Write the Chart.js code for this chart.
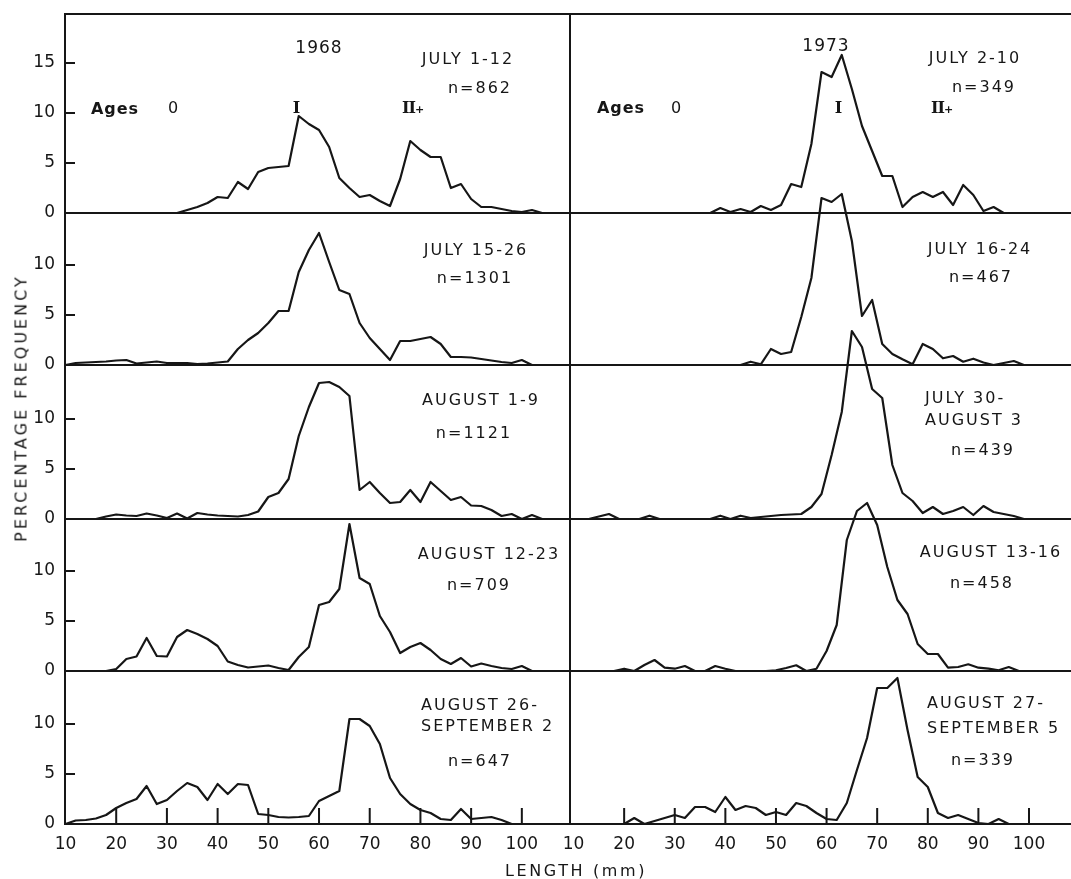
<!DOCTYPE html>
<html>
<head>
<meta charset="utf-8">
<script src="https://cdn.jsdelivr.net/npm/chart.js@4.4.1/dist/chart.umd.min.js"></script>
<style>
  html, body { margin: 0; padding: 0; background: #fff; }
  #fig { position: relative; width: 1071px; height: 879px; overflow: hidden;
         font-family: "DejaVu Sans", sans-serif; color: #161616; }
  #fig canvas { position: absolute; top: 0; }
  .t { position: absolute; font-size: 16px; letter-spacing: 2px; white-space: nowrap;
       transform: translate(-50%, -50%); line-height: 1; }
  .l { position: absolute; font-size: 16px; letter-spacing: 2px; white-space: nowrap;
       transform: translate(0, -50%); line-height: 1; }
  .year { font-size: 17px; letter-spacing: 1px; }
  .ages { font-weight: bold; letter-spacing: 1px; }
  .roman { font-family: "DejaVu Serif", serif; font-weight: bold; letter-spacing: -1px; }
  .roman small { font-family: "DejaVu Sans", sans-serif; font-size: 11px; letter-spacing: 0; }
  .ytitle { position: absolute; left: 21px; top: 408px; font-size: 16px; letter-spacing: 3px;
            white-space: nowrap; transform: translate(-50%, -50%) rotate(-90deg); }
  .xtitle { position: absolute; left: 576px; top: 870px; font-size: 16px; letter-spacing: 2.6px;
            white-space: nowrap; transform: translate(-50%, -50%); }
</style>
</head>
<body>
<div id="fig">
  <canvas id="chart1968" width="571" height="879" style="left:0"></canvas>
  <canvas id="chart1973" width="509" height="879" style="left:562px"></canvas>

  <div class="t year" style="left:319px;top:47px">1968</div>
  <div class="t" style="left:468px;top:59px">JULY 1-12</div>
  <div class="t" style="left:480px;top:88px">n=862</div>
  <div class="t ages" style="left:115px;top:109px">Ages</div>
  <div class="t" style="left:174px;top:108px">0</div>
  <div class="t roman" style="left:296px;top:108px">I</div>
  <div class="t roman" style="left:413px;top:108px">II<small>+</small></div>
  <div class="t" style="left:476px;top:250px">JULY 15-26</div>
  <div class="t" style="left:475px;top:278px">n=1301</div>
  <div class="t" style="left:481px;top:400px">AUGUST 1-9</div>
  <div class="t" style="left:474px;top:433px">n=1121</div>
  <div class="t" style="left:489px;top:554px">AUGUST 12-23</div>
  <div class="t" style="left:479px;top:585px">n=709</div>
  <div class="l" style="left:421px;top:705px">AUGUST 26-</div>
  <div class="l" style="left:421px;top:726px">SEPTEMBER 2</div>
  <div class="t" style="left:480px;top:761px">n=647</div>

  <div class="t year" style="left:826px;top:45px">1973</div>
  <div class="t" style="left:975px;top:58px">JULY 2-10</div>
  <div class="t" style="left:984px;top:87px">n=349</div>
  <div class="t ages" style="left:621px;top:108px">Ages</div>
  <div class="t" style="left:677px;top:108px">0</div>
  <div class="t roman" style="left:838px;top:108px">I</div>
  <div class="t roman" style="left:942px;top:108px">II<small>+</small></div>
  <div class="t" style="left:980px;top:249px">JULY 16-24</div>
  <div class="t" style="left:981px;top:277px">n=467</div>
  <div class="l" style="left:925px;top:398px">JULY 30-</div>
  <div class="l" style="left:925px;top:420px">AUGUST 3</div>
  <div class="t" style="left:983px;top:450px">n=439</div>
  <div class="t" style="left:991px;top:552px">AUGUST 13-16</div>
  <div class="t" style="left:982px;top:583px">n=458</div>
  <div class="l" style="left:927px;top:703px">AUGUST 27-</div>
  <div class="l" style="left:927px;top:728px">SEPTEMBER 5</div>
  <div class="t" style="left:983px;top:760px">n=339</div>

  <div class="ytitle">PERCENTAGE FREQUENCY</div>
  <div class="xtitle">LENGTH (mm)</div>
</div>

<script>
// length classes (mm)
const lengthsEven = [10, 12, 14, 16, 18, 20, 22, 24, 26, 28, 30, 32, 34, 36, 38, 40, 42, 44, 46, 48,
  50, 52, 54, 56, 58, 60, 62, 64, 66, 68, 70, 72, 74, 76, 78, 80, 82, 84, 86, 88,
  90, 92, 94, 96, 98, 100, 102, 104];
const lengthsOdd = [11, 13, 15, 17, 19, 21, 23, 25, 27, 29, 31, 33, 35, 37, 39, 41, 43, 45, 47, 49,
  51, 53, 55, 57, 59, 61, 63, 65, 67, 69, 71, 73, 75, 77, 79, 81, 83, 85, 87, 89,
  91, 93, 95, 97, 99, 101, 103, 105];
const lengthTicks = [10, 20, 30, 40, 50, 60, 70, 80, 90, 100];

// 1968 (percentage frequency, on lengthsEven)
const july1_12 = [null, null, null, null, null, null, null, null, null, null, null,
  0, 0.3, 0.6, 1.0, 1.6, 1.5, 3.1, 2.4, 4.1, 4.5, 4.6, 4.7, 9.7, 8.9, 8.3, 6.6, 3.5, 2.5, 1.6,
  1.8, 1.2, 0.7, 3.4, 7.2, 6.3, 5.6, 5.6, 2.5, 2.9, 1.4, 0.6, 0.6, 0.4, 0.2, 0.1, 0.3, 0];
const july15_26 = [0, 0.2, 0.25, 0.3, 0.35, 0.45, 0.5, 0.15, 0.25, 0.35, 0.2, 0.2, 0.2, 0.1, 0.15,
  0.25, 0.35, 1.6, 2.5, 3.2, 4.2, 5.4, 5.4, 9.3, 11.5, 13.2, 10.3, 7.5, 7.1, 4.2, 2.7, 1.6, 0.5,
  2.4, 2.4, 2.6, 2.8, 2.1, 0.8, 0.8, 0.75, 0.6, 0.45, 0.3, 0.2, 0.5, 0, null];
const aug1_9 = [null, null, null, 0, 0.25, 0.45, 0.35, 0.3, 0.55, 0.35, 0.1, 0.55, 0.05, 0.6, 0.45,
  0.35, 0.3, 0.25, 0.4, 0.75, 2.2, 2.6, 4.0, 8.3, 11.2, 13.6, 13.7, 13.2, 12.3, 2.9, 3.7, 2.6,
  1.6, 1.7, 2.9, 1.7, 3.7, 2.8, 1.9, 2.2, 1.35, 1.3, 0.9, 0.3, 0.5, 0, 0.4, 0];
const aug12_23 = [null, null, null, null, 0, 0.2, 1.2, 1.45, 3.3, 1.5, 1.45, 3.4, 4.1, 3.7, 3.2,
  2.5, 0.95, 0.6, 0.35, 0.45, 0.55, 0.3, 0.1, 1.4, 2.4, 6.6, 6.9, 8.2, 14.7, 9.3, 8.7, 5.5, 3.9,
  1.8, 2.4, 2.8, 2.1, 1.2, 0.7, 1.3, 0.45, 0.75, 0.5, 0.3, 0.2, 0.5, 0, null];
const aug26_sep2 = [0, 0.35, 0.4, 0.55, 0.9, 1.6, 2.1, 2.5, 3.8, 2.0, 2.4, 3.3, 4.1, 3.7, 2.4,
  4.0, 3.0, 4.0, 3.9, 1.0, 0.9, 0.7, 0.65, 0.7, 0.8, 2.3, 2.8, 3.3, 10.5, 10.5, 9.8, 8.0, 4.6,
  3.0, 2.0, 1.4, 1.1, 0.5, 0.4, 1.5, 0.5, 0.6, 0.7, 0.4, 0, null, null, null];

// 1973
const july2_10 = [null, null, null, null, null, null, null, null, null, null, null, null, null,
  0, 0.5, 0.1, 0.4, 0.1, 0.7, 0.3, 0.8, 2.9, 2.6, 6.9, 14.1, 13.6, 15.8, 12.4, 8.7, 6.2, 3.7,
  3.7, 0.6, 1.6, 2.1, 1.6, 2.1, 0.8, 2.8, 1.8, 0.2, 0.6, 0, 0, 0, 0, null, null];
const july16_24 = [null, null, null, null, null, null, null, null, null, null, null, null, null,
  null, null, null, 0, 0.33, 0.07, 1.6, 1.1, 1.3, 4.8, 8.7, 16.7, 16.3, 17.1, 12.4, 4.9, 6.5,
  2.1, 1.1, 0.57, 0.07, 2.1, 1.6, 0.67, 0.9, 0.33, 0.63, 0.25, 0, 0.2, 0.4, 0, null, null, null];
const july30_aug3 = [null, 0, 0.25, 0.5, 0, 0, 0, 0.33, 0, 0, 0, 0, 0, 0, 0.33, 0, 0.33, 0.1,
  0.2, 0.3, 0.4, 0.45, 0.5, 1.2, 2.5, 6.4, 10.7, 18.8, 17.2, 13.0, 12.1, 5.4, 2.6, 1.8, 0.6,
  1.2, 0.5, 0.8, 1.2, 0.4, 1.3, 0.7, 0.5, 0.3, 0, null, null, null];
const aug13_16 = [null, null, null, null, 0, 0.23, 0, 0.6, 1.1, 0.33, 0.23, 0.5, 0, 0, 0.5, 0.23,
  0, 0, 0, 0, 0.07, 0.3, 0.57, 0, 0.23, 2.0, 4.6, 13.1, 16.0, 16.8, 14.6, 10.4, 7.1, 5.7, 2.7,
  1.7, 1.7, 0.33, 0.4, 0.67, 0.33, 0.23, 0.07, 0.4, 0, null, null, null];
const aug27_sep5 = [null, null, null, null, null, 0, 0.6, 0, 0.3, 0.6, 0.9, 0.6, 1.7, 1.7, 1.2,
  2.7, 1.4, 1.8, 1.6, 0.9, 1.2, 0.9, 2.1, 1.8, 1.1, 0.5, 0.4, 2.1, 5.4, 8.6, 13.6, 13.6, 14.6,
  9.4, 4.7, 3.7, 1.1, 0.6, 0.9, 0.5, 0.1, 0, 0.5, 0, 0, 0, null, null];

const ink = "#161616";
const tickFont = { family: "DejaVu Sans", size: 17 };

// panel layout, top to bottom
const panelHeights = [199, 152, 154, 152, 153];   // px, 10 px per percent
const panelTicks = [[0, 5, 10, 15], [0, 5, 10], [0, 5, 10], [0, 5, 10], [0, 5, 10]];

const panels1968 = [
  { lengths: lengthsEven, values: july1_12 },
  { lengths: lengthsEven, values: july15_26 },
  { lengths: lengthsEven, values: aug1_9 },
  { lengths: lengthsEven, values: aug12_23 },
  { lengths: lengthsEven, values: aug26_sep2 }
];
const panels1973 = [
  { lengths: lengthsOdd, values: july2_10 },
  { lengths: lengthsOdd, values: july16_24 },
  { lengths: lengthsOdd, values: july30_aug3 },
  { lengths: lengthsEven, values: aug13_16 },
  { lengths: lengthsEven, values: aug27_sep5 }
];

// baselines, frame top and the short inner tick marks
const frameLines = {
  id: "frameLines",
  beforeDatasetsDraw(chart, args, opts) {
    const ctx = chart.ctx;
    const { left, right, top } = chart.chartArea;
    const ids = panelHeights.map((h, i) => "y" + i);
    ctx.save();
    ctx.strokeStyle = ink;
    ctx.lineWidth = 2;
    ctx.beginPath();
    ctx.moveTo(left, top);
    ctx.lineTo(right, top);
    ids.forEach((id) => {
      const s = chart.scales[id];
      const y0 = s.getPixelForValue(0);
      ctx.moveTo(left, y0);
      ctx.lineTo(right, y0);
      if (opts.yMarks) {
        s.ticks.forEach((t) => {
          if (t.value === 0) return;
          const y = s.getPixelForValue(t.value);
          ctx.moveTo(left, y);
          ctx.lineTo(left + 10, y);
        });
      }
    });
    const xs = chart.scales.x;
    const yb = chart.scales[ids[ids.length - 1]].getPixelForValue(0);
    xs.ticks.forEach((t) => {
      if (t.value <= 10) return;
      const x = xs.getPixelForValue(t.value);
      ctx.moveTo(x, yb);
      ctx.lineTo(x, yb - 16);
    });
    ctx.stroke();
    ctx.restore();
  }
};

function buildChart(canvasId, panels, xMin, xMax, yAxisWidth, showLabels, padRight) {
  const scales = {
    x: {
      type: "linear",
      position: "bottom",
      min: xMin,
      max: xMax,
      grid: { display: false, drawTicks: false },
      border: { display: false },
      ticks: { font: tickFont, color: ink, padding: 10, autoSkip: false, maxRotation: 0 },
      afterBuildTicks: (s) => { s.ticks = lengthTicks.map((v) => ({ value: v })); },
      afterFit: (s) => {
        s.height = 55;
        s.paddingLeft = 0;
        s.paddingRight = 0;
      }
    }
  };
  panels.forEach((p, i) => {
    scales["y" + i] = {
      type: "linear",
      position: "left",
      stack: "panels",
      stackWeight: panelHeights[i],
      weight: panels.length - i,
      min: 0,
      max: panelHeights[i] / 10,
      grid: { display: false, drawTicks: false },
      border: { display: true, color: ink, width: 2 },
      ticks: { display: showLabels, font: tickFont, color: ink, padding: 10 },
      afterBuildTicks: (s) => { s.ticks = panelTicks[i].map((v) => ({ value: v })); },
      afterFit: (s) => {
        s.width = yAxisWidth;
        s.paddingTop = 0;
        s.paddingBottom = 0;
      }
    };
  });

  return new Chart(document.getElementById(canvasId), {
    type: "line",
    data: {
      datasets: panels.map((p, i) => ({
        data: p.lengths.map((x, k) => ({ x: x, y: p.values[k] })),
        yAxisID: "y" + i,
        borderColor: ink,
        borderWidth: 2.2,
        borderJoinStyle: "round",
        pointRadius: 0,
        fill: false,
        tension: 0,
        clip: false
      }))
    },
    options: {
      responsive: false,
      animation: false,
      events: [],
      layout: { padding: { top: 14, right: padRight, bottom: 0, left: 0 } },
      plugins: {
        legend: { display: false },
        tooltip: { enabled: false },
        frameLines: { yMarks: showLabels }
      },
      scales: scales
    },
    plugins: [frameLines]
  });
}

buildChart("chart1968", panels1968, 9.9, 109.5, 65, true, 1);
buildChart("chart1973", panels1973, 9.3, 108.3, 8, false, 0);
</script>
</body>
</html>
